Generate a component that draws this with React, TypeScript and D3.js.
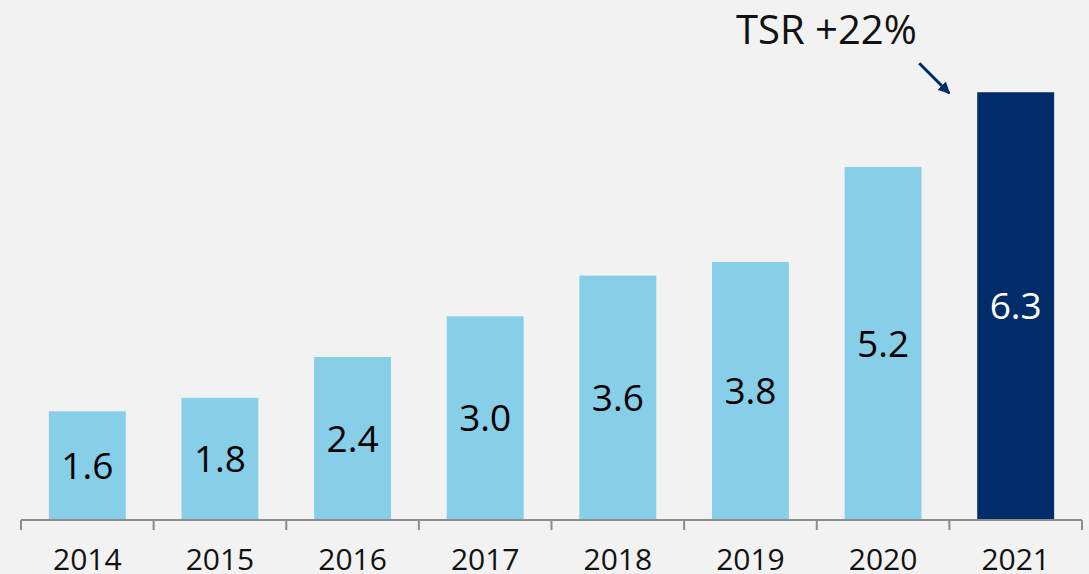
import React from "react";
import * as d3 from "d3";

const years = ["2014", "2015", "2016", "2017", "2018", "2019", "2020", "2021"];
const values = [1.6, 1.8, 2.4, 3.0, 3.6, 3.8, 5.2, 6.3];
const highlightYear = "2021";
const annotation = "TSR +22%";

const W = 1089;
const H = 574;
const FONT = "'Open Sans', sans-serif";

export default function App() {
  const x = d3.scaleBand<string>().domain(years).range([21, 1082]).paddingInner(0.42).paddingOuter(0.21);
  const y = d3.scaleLinear().domain([0, 7]).range([520, 44.7]);
  const step = x.step();
  const x0 = x.range()[0];
  const ticks = d3.range(years.length + 1).map((i) => x0 + i * step);
  const hi = years.indexOf(highlightYear);
  const hx = x(highlightYear)!;
  const hy = y(values[hi]);

  return (
    <svg width={W} height={H} style={{ position: "absolute", left: 0, top: 0 }} fontFamily={FONT}>
      <defs>
        <marker id="arr" viewBox="0 0 10 10" refX="9" refY="5" markerWidth="4" markerHeight="4" orient="auto">
          <path d="M0,0 L10,5 L0,10 z" fill="#002D6A" />
        </marker>
      </defs>
      <rect x={0} y={0} width={W} height={H} fill="#F2F2F2" />
      {years.map((yr, i) => {
        const bx = x(yr)!;
        const by = y(values[i]);
        const isHi = yr === highlightYear;
        return (
          <g key={yr}>
            <rect x={bx} y={by} width={x.bandwidth()} height={y(0) - by} fill={isHi ? "#002D6A" : "#87CEE8"} />
            <text
              x={bx + x.bandwidth() / 2}
              y={(by + y(0)) / 2}
              dy="0.36em"
              textAnchor="middle"
              fontSize={37}
              fill={isHi ? "#ffffff" : "#000000"}
            >
              {values[i].toFixed(1)}
            </text>
            <text x={bx + x.bandwidth() / 2} y={570} textAnchor="middle" fontSize={30} fill="#111">
              {yr}
            </text>
          </g>
        );
      })}
      <line x1={ticks[0]} x2={ticks[ticks.length - 1]} y1={y(0)} y2={y(0)} stroke="#8C8C8C" strokeWidth={2} />
      {ticks.map((t, i) => (
        <line key={i} x1={t} x2={t} y1={y(0)} y2={530} stroke="#8C8C8C" strokeWidth={2} />
      ))}
      <text x={736} y={44} fontSize={40} fill="#111">
        {annotation}
      </text>
      <line
        x1={hx - 58}
        y1={hy - 29}
        x2={hx - 28}
        y2={hy + 1}
        stroke="#002D6A"
        strokeWidth={3}
        markerEnd="url(#arr)"
      />
    </svg>
  );
}
